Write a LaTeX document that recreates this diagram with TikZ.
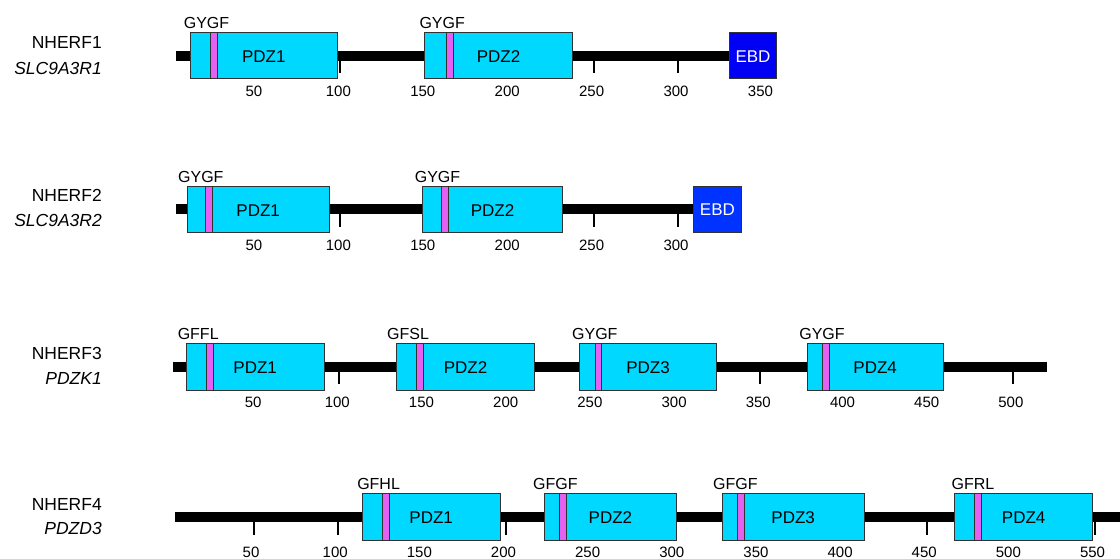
\documentclass[tikz,border=0pt]{standalone}
\usepackage{fontspec}
\setmainfont{Liberation Sans}
\definecolor{pdz}{RGB}{0,216,255}
\definecolor{motif}{RGB}{228,96,240}
\definecolor{ebdA}{RGB}{0,0,245}
\definecolor{ebdB}{RGB}{0,51,255}
\definecolor{edge}{RGB}{50,50,50}
\begin{document}
\begin{tikzpicture}[x=0.75pt,y=-0.75pt,
  backbone/.style={line width=7.5pt},
  tickmark/.style={line width=1.5pt},
  dombox/.style={fill=pdz,draw=edge,line width=0.75pt},
  motifbox/.style={fill=motif,draw=edge,line width=0.75pt},
  ebdbox/.style={draw=edge,line width=0.75pt},
  numlbl/.style={font=\fontsize{11.25pt}{12pt}\selectfont,inner sep=0pt},
  motiflbl/.style={font=\fontsize{12pt}{13pt}\selectfont,inner sep=0pt},
  domlbl/.style={font=\fontsize{12.75pt}{14pt}\selectfont,inner sep=0pt},
  ebdlbl/.style={domlbl,text=white},
  namelbl/.style={font=\fontsize{13.1pt}{14pt}\selectfont,inner sep=0pt,anchor=east},
  genelbl/.style={font=\fontsize{13.1pt}{14pt}\selectfont\itshape,inner sep=0pt,anchor=east}]
\useasboundingbox (0,0) rectangle (1120,559);

% ---------- Row 1: NHERF1 ----------
\node[namelbl] (name1) at (102,42.7) {NHERF1};
\node[genelbl] (gene1) at (102,68.3) {SLC9A3R1};
\draw[backbone] (176,55.7) -- (750,55.7);
\foreach \r in {50,100,...,350} {
  \draw[tickmark] ({171.5+1.6885*\r},55.7) -- ++(0,17.6);
  \node[numlbl] (a\r) at ({169.5+1.6885*\r},91.2) {\r};
}
\draw[dombox] (190.3,32.4) rectangle (337.3,79);
\draw[motifbox] (210.7,32.4) rectangle (217.3,79);
\node[domlbl] (r1d1) at (263.8,56.7) {PDZ1};
\node[motiflbl] (r1m1) at (206.5,22.7) {GYGF};
\draw[dombox] (424.3,32.4) rectangle (572.7,79);
\draw[motifbox] (446.3,32.4) rectangle (453.3,79);
\node[domlbl] (r1d2) at (498.5,56.7) {PDZ2};
\node[motiflbl] (r1m2) at (442.2,22.7) {GYGF};
\draw[ebdbox,fill=ebdA] (729.3,32.4) rectangle (776.7,79);
\node[ebdlbl] (r1e) at (753,56.2) {EBD};

% ---------- Row 2: NHERF2 ----------
\node[namelbl] (name2) at (102,195.7) {NHERF2};
\node[genelbl] (gene2) at (102,220.7) {SLC9A3R2};
\draw[backbone] (176,209.5) -- (720,209.5);
\foreach \r in {50,100,...,300} {
  \draw[tickmark] ({171.5+1.6885*\r},209.5) -- ++(0,17.6);
  \node[numlbl] (b\r) at ({169.5+1.6885*\r},245) {\r};
}
\draw[dombox] (187.3,186.2) rectangle (329,232.8);
\draw[motifbox] (205.3,186.2) rectangle (212.3,232.8);
\node[domlbl] (r2d1) at (258.2,210.5) {PDZ1};
\node[motiflbl] (r2m1) at (200.8,176.5) {GYGF};
\draw[dombox] (422.7,186.2) rectangle (562.3,232.8);
\draw[motifbox] (441.3,186.2) rectangle (448.3,232.8);
\node[domlbl] (r2d2) at (492.5,210.5) {PDZ2};
\node[motiflbl] (r2m2) at (437.5,176.5) {GYGF};
\draw[ebdbox,fill=ebdB] (693.7,186.2) rectangle (741,232.8);
\node[ebdlbl] (r2e) at (717.4,210) {EBD};

% ---------- Row 3: NHERF3 ----------
\node[namelbl] (name3) at (102,353) {NHERF3};
\node[genelbl] (gene3) at (102,378) {PDZK1};
\draw[backbone] (172.9,366.7) -- (1046.8,366.7);
\foreach \r in {50,100,...,500} {
  \draw[tickmark] ({170.9+1.684*\r},366.7) -- ++(0,17.6);
  \node[numlbl] (c\r) at ({168.9+1.684*\r},402) {\r};
}
\draw[dombox] (186,343.4) rectangle (324.3,390);
\draw[motifbox] (206.4,343.4) rectangle (213.2,390);
\node[domlbl] (r3d1) at (255.2,367.7) {PDZ1};
\node[motiflbl] (r3m1) at (198.2,333.7) {GFFL};
\draw[dombox] (396.4,343.4) rectangle (534.6,390);
\draw[motifbox] (416.8,343.4) rectangle (423.6,390);
\node[domlbl] (r3d2) at (465.5,367.7) {PDZ2};
\node[motiflbl] (r3m2) at (408,333.7) {GFSL};
\draw[dombox] (579.6,343.4) rectangle (716.4,390);
\draw[motifbox] (595,343.4) rectangle (601.8,390);
\node[domlbl] (r3d3) at (648,367.7) {PDZ3};
\node[motiflbl] (r3m3) at (594.8,333.7) {GYGF};
\draw[dombox] (807.1,343.4) rectangle (943.2,390);
\draw[motifbox] (822.5,343.4) rectangle (829,390);
\node[domlbl] (r3d4) at (875.2,367.7) {PDZ4};
\node[motiflbl] (r3m4) at (822,333.7) {GYGF};

% ---------- Row 4: NHERF4 ----------
\node[namelbl] (name4) at (102,504.5) {NHERF4};
\node[genelbl] (gene4) at (102,528) {PDZD3};
\draw[backbone] (175,517) -- (1125,517);
\foreach \r in {50,100,...,550} {
  \draw[tickmark] ({169.4+1.683*\r},517) -- ++(0,17.6);
  \node[numlbl] (d\r) at ({166.9+1.683*\r},552) {\r};
}
\draw[dombox] (362.1,493.7) rectangle (500.4,540.3);
\draw[motifbox] (382.5,493.7) rectangle (389.3,540.3);
\node[domlbl] (r4d1) at (431.2,518) {PDZ1};
\node[motiflbl] (r4m1) at (378.6,484) {GFHL};
\draw[dombox] (544,493.7) rectangle (676.9,540.3);
\draw[motifbox] (559,493.7) rectangle (566,540.3);
\node[domlbl] (r4d2) at (610.4,518) {PDZ2};
\node[motiflbl] (r4m2) at (555.3,484) {GFGF};
\draw[dombox] (722.4,493.7) rectangle (864,540.3);
\draw[motifbox] (737.4,493.7) rectangle (744.5,540.3);
\node[domlbl] (r4d3) at (793.2,518) {PDZ3};
\node[motiflbl] (r4m3) at (735.3,484) {GFGF};
\draw[dombox] (954.6,493.7) rectangle (1092.9,540.3);
\draw[motifbox] (974.6,493.7) rectangle (981.8,540.3);
\node[domlbl] (r4d4) at (1023.7,518) {PDZ4};
\node[motiflbl] (r4m4) at (972.9,484) {GFRL};
\end{tikzpicture}
\end{document}
